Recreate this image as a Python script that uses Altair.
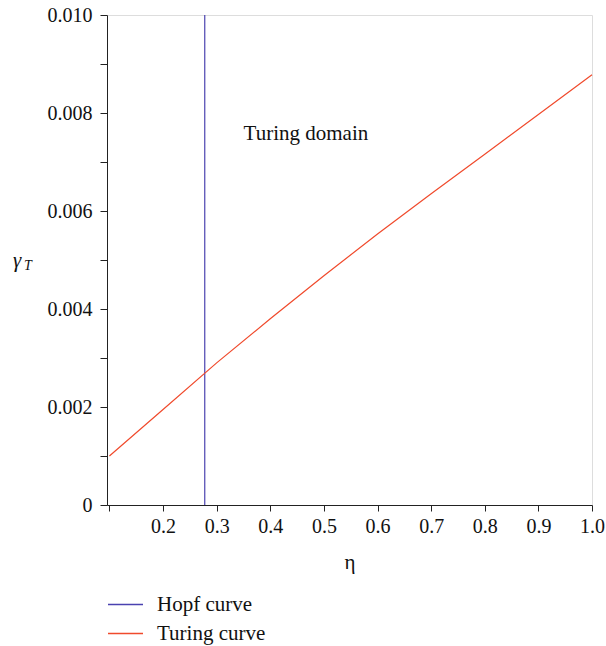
import altair as alt
import pandas as pd

# Turing curve
turing_eta = [0.1, 0.2, 0.3, 0.4, 0.5, 0.6, 0.7, 0.8, 0.9, 1.0]
turing_gamma = [0.00100, 0.00195, 0.00290, 0.00380, 0.00468, 0.00553, 0.00635, 0.00716, 0.00797, 0.00878]

# Hopf curve (vertical line)
hopf_eta = [0.2778, 0.2778]
hopf_gamma = [0.0, 0.010]

series_names = ["Hopf curve", "Turing curve"]
series_colors = ["#4a42b0", "#f04a2c"]

x_ticks = [round(0.1 + 0.05 * i, 2) for i in range(19)]
y_ticks = [round(0.001 * i, 3) for i in range(11)]

rows = []
for i, (e, g) in enumerate(zip(hopf_eta, hopf_gamma)):
    rows.append({"eta": e, "gamma": g, "series": series_names[0], "ord": i})
for i, (e, g) in enumerate(zip(turing_eta, turing_gamma)):
    rows.append({"eta": e, "gamma": g, "series": series_names[1], "ord": i})
df = pd.DataFrame(rows)

FONT = "Liberation Serif"

xscale = alt.Scale(domain=[0.0955, 1.0], nice=False, zero=False)
yscale = alt.Scale(domain=[0, 0.010], nice=False)

lines = alt.Chart(df).mark_line(strokeWidth=1.2).encode(
    x=alt.X("eta:Q", scale=xscale,
            axis=alt.Axis(values=x_ticks, title="η", grid=False,
                          labelExpr="(round(datum.value*100) % 10 == 0 && datum.value > 0.15) ? format(datum.value, '.1f') : ''",
                          labelFont=FONT, labelFontSize=20, labelColor="#111",
                          titleFont=FONT, titleFontSize=21, titleFontWeight="normal",
                          titleColor="#111", titlePadding=15,
                          tickSize=6, tickColor="#222", domainColor="#222",
                          labelPadding=5, labelFlush=False)),
    y=alt.Y("gamma:Q", scale=yscale,
            axis=alt.Axis(values=y_ticks, title=None, grid=False,
                          labelExpr="datum.value == 0 ? '0' : (round(datum.value*1000) % 2 == 0 ? format(datum.value, '.3f') : '')",
                          labelFont=FONT, labelFontSize=20, labelColor="#111",
                          tickSize=7, tickColor="#222", domainColor="#222",
                          labelPadding=8)),
    color=alt.Color("series:N",
                    scale=alt.Scale(domain=series_names, range=series_colors),
                    legend=alt.Legend(title=None, orient="none", legendX=0, legendY=571,
                                      direction="vertical", symbolType="stroke",
                                      symbolSize=1225, symbolStrokeWidth=1.5,
                                      labelFont=FONT, labelFontSize=21, labelColor="#111",
                                      labelOffset=13, rowPadding=-10)),
    detail="series:N",
    order="ord:Q",
)

ann = pd.DataFrame({"eta": [0.4665], "gamma": [0.00758], "label": ["Turing domain"]})
annotation = alt.Chart(ann).mark_text(font=FONT, fontSize=21, color="#111", align="center",
                                      baseline="middle").encode(
    x=alt.X("eta:Q", scale=xscale), y=alt.Y("gamma:Q", scale=yscale), text="label:N")

ytitle_g = alt.Chart(pd.DataFrame({"t": ["γ"]})).mark_text(
    font=FONT, fontSize=21, fontStyle="italic", color="#111", align="left", baseline="alphabetic"
).encode(x=alt.value(-94), y=alt.value(252), text="t:N")
ytitle_t = alt.Chart(pd.DataFrame({"t": ["T"]})).mark_text(
    font=FONT, fontSize=14, fontStyle="italic", color="#111", align="left", baseline="alphabetic"
).encode(x=alt.value(-83), y=alt.value(255), text="t:N")

chart = alt.layer(lines, annotation, ytitle_g, ytitle_t).properties(
    width=485, height=490,
    autosize=alt.AutoSizeParams(type="none"),
    padding={"left": 107, "top": 15, "right": 14, "bottom": 141},
).configure_view(stroke=None).configure(background="white", font=FONT)

chart.save("out.html", embed_options={"renderer": "svg", "actions": False})
